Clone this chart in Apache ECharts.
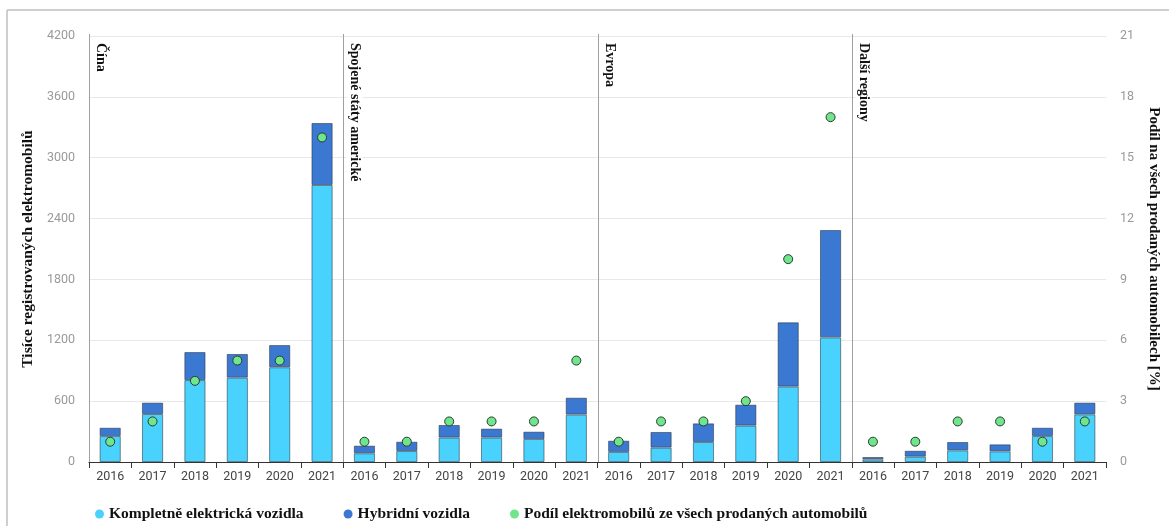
<!DOCTYPE html>
<html><head><meta charset="utf-8">
<script src="https://cdn.jsdelivr.net/npm/echarts@6/dist/echarts.min.js"></script>
<style>html,body{margin:0;padding:0;background:#fff}#c{width:1169px;height:526px}</style>
</head><body><div id="c"></div>
<script>
const regions = ['Čína', 'Spojené státy americké', 'Evropa', 'Další regiony'];
const years = ['2016', '2017', '2018', '2019', '2020', '2021'];
// Thousands of registered EVs, per region then year
const bev = [256, 473, 808, 831, 934, 2731,
             86, 108, 240, 240, 227, 467,
             99, 141, 197, 358, 743, 1229,
             26, 52, 115, 105, 256, 470];
const hybrid = [82, 112, 276, 234, 219, 611,
                75, 92, 125, 89, 72, 167,
                111, 155, 184, 207, 634, 1058,
                23, 59, 82, 69, 82, 115];
// Share of all cars sold [%]
const share = [1, 2, 4, 5, 5, 16,
               1, 1, 2, 2, 2, 5,
               1, 2, 2, 3, 10, 17,
               1, 1, 2, 2, 1, 2];
const leftTicks = [0, 600, 1200, 1800, 2400, 3000, 3600, 4200];
const rightTicks = [0, 3, 6, 9, 12, 15, 18, 21];
const seriesNames = ['Kompletně elektrická vozidla', 'Hybridní vozidla', 'Podíl elektromobilů ze všech prodaných automobilů'];
const axisNames = ['Tisíce registrovaných elektromobilů', 'Podíl na všech prodaných automobilech [%]'];

const categories = [];
regions.forEach(r => years.forEach(y => categories.push(r + '|' + y)));

const serif = "'Liberation Serif', 'DejaVu Serif', serif";
const sans = "Roboto, 'Noto Sans', sans-serif";
const C_BEV = '#48D2FD', C_HYB = '#3B78D1', C_SHARE = '#6FE58C';

const chart = echarts.init(document.getElementById('c'), null, {renderer: 'canvas'});
chart.setOption({
  animation: false,
  backgroundColor: '#fff',
  grid: {left: 89, right: 55, top: 36, bottom: 64},
  legend: {
    left: 90, top: 501, itemGap: 40, itemWidth: 9, itemHeight: 9, icon: 'circle',
    itemStyle: {borderWidth: 0},
    textStyle: {fontFamily: serif, fontWeight: 'bold', fontSize: 15.5, color: '#111'},
    data: seriesNames
  },
  xAxis: {
    type: 'category', data: categories,
    axisLine: {lineStyle: {color: '#333', width: 1.2}},
    axisTick: {show: true, length: 6, lineStyle: {color: '#333'}},
    axisLabel: {interval: 0, color: '#444', fontFamily: sans, fontSize: 12.5, margin: 8,
      formatter: v => v.split('|')[1]},
    splitLine: {show: false}
  },
  yAxis: [{
    type: 'value', min: leftTicks[0], max: leftTicks[leftTicks.length - 1], interval: leftTicks[1] - leftTicks[0],
    name: axisNames[0], nameLocation: 'middle', nameRotate: 90, nameGap: 45,
    nameTextStyle: {fontFamily: serif, fontWeight: 'bold', fontSize: 15.5, color: '#111'},
    axisLine: {show: false}, axisTick: {show: false},
    axisLabel: {color: '#9a9a9a', fontFamily: sans, fontSize: 12.5, margin: 14, formatter: v => String(v)},
    splitLine: {lineStyle: {color: '#e8e8e8'}}
  }, {
    type: 'value', min: rightTicks[0], max: rightTicks[rightTicks.length - 1], interval: rightTicks[1] - rightTicks[0],
    name: axisNames[1], nameLocation: 'middle', nameRotate: -90, nameGap: 40,
    nameTextStyle: {fontFamily: serif, fontWeight: 'bold', fontSize: 15, color: '#111'},
    axisLine: {show: false}, axisTick: {show: false},
    axisLabel: {color: '#9a9a9a', fontFamily: sans, fontSize: 12.5, margin: 14, formatter: v => String(v)},
    splitLine: {show: false}
  }],
  series: [{
    name: seriesNames[0], type: 'bar', stack: 'ev', data: bev, barWidth: '50%',
    itemStyle: {color: C_BEV, borderColor: 'rgba(40,50,60,0.55)', borderWidth: 1}
  }, {
    name: seriesNames[1], type: 'bar', stack: 'ev', data: hybrid, barWidth: '50%',
    itemStyle: {color: C_HYB, borderColor: 'rgba(40,50,60,0.55)', borderWidth: 1}
  }, {
    name: seriesNames[2], type: 'scatter', yAxisIndex: 1, data: share, symbol: 'circle', symbolSize: 9, z: 5,
    itemStyle: {color: C_SHARE, borderColor: '#2b3b30', borderWidth: 1, opacity: 1}
  }]
});

// Region separators and labels positioned via the axes' own scales
const c0 = chart.convertToPixel({xAxisIndex: 0}, 0);
const c1 = chart.convertToPixel({xAxisIndex: 0}, 1);
const band = c1 - c0;
const yTop = chart.convertToPixel({yAxisIndex: 0}, leftTicks[leftTicks.length - 1]);
const yBot = chart.convertToPixel({yAxisIndex: 0}, 0);
const graphics = [
  {type: 'line', shape: {x1: 7, y1: 10, x2: 7, y2: 526}, style: {stroke: '#cfcfcf', lineWidth: 2}, silent: true},
  {type: 'line', shape: {x1: 7, y1: 10, x2: 1169, y2: 10}, style: {stroke: '#cfcfcf', lineWidth: 2}, silent: true}
];
regions.forEach((r, i) => {
  const x = Math.round(chart.convertToPixel({xAxisIndex: 0}, i * years.length) - band / 2) + 0.5;
  graphics.push({type: 'line', z: 10, shape: {x1: x, y1: yTop - 2, x2: x, y2: yBot}, style: {stroke: '#a0a0a0', lineWidth: 1}, silent: true});
  graphics.push({type: 'text', z: 11, x: x + 11, y: yTop + 5, rotation: -Math.PI / 2,
    style: {text: r, fontFamily: serif, fontWeight: 'bold', fontSize: 14, fill: '#111',
      align: 'left', verticalAlign: 'middle', backgroundColor: '#fff', padding: [1, 2]}, silent: true});
});
chart.setOption({graphic: graphics});
</script></body></html>
